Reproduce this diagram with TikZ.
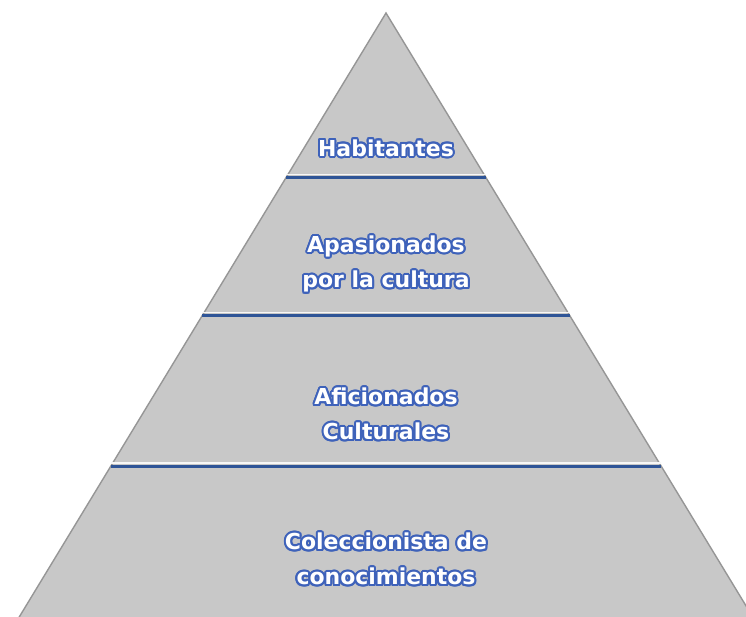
\documentclass[tikz,border=0pt]{standalone}
\usepackage{fontspec}
\usepackage{contour}
\usetikzlibrary{calc}
\newfontfamily\lvlfont{DejaVu Sans}
\definecolor{pyrgray}{RGB}{200,200,200}
\definecolor{pyredge}{RGB}{150,150,150}
\definecolor{lvlblue}{RGB}{47,85,151}
\definecolor{txtblue}{RGB}{62,98,186}
\contourlength{1.15pt}
\newcommand{\lvl}[1]{\contour{txtblue}{#1}}

\begin{document}
\begin{tikzpicture}[x=0.02cm,y=-0.02cm,
    lvltext/.style={text=white, align=center, font=\lvlfont\bfseries\fontsize{12.5}{20}\selectfont},
    divider/.style={lvlblue, line width=1.6pt}]
  \useasboundingbox (0,0) rectangle (746,616);
  \clip (0,0) rectangle (746,616);
  \coordinate (top) at (386,13);
  \coordinate (bl) at (18,619);
  \coordinate (br) at (754,619);
  \fill[pyrgray, draw=pyredge, line width=0.8pt] (top) -- (bl) -- (br) -- cycle;
  % level dividers
  \coordinate (l1) at ($(top)!0.272!(bl)$);
  \coordinate (r1) at ($(top)!0.272!(br)$);
  \coordinate (l2) at ($(top)!0.499!(bl)$);
  \coordinate (r2) at ($(top)!0.499!(br)$);
  \coordinate (l3) at ($(top)!0.748!(bl)$);
  \coordinate (r3) at ($(top)!0.748!(br)$);
  \foreach \i in {1,2,3}{
    \draw[white!85!pyrgray, line width=0.8pt] ([yshift=1.8pt]l\i) -- ([yshift=1.8pt]r\i);
    \draw[divider] (l\i) -- (r\i);
  }
  % labels
  \node[lvltext] (hab) at (386,149) {\lvl{Habitantes}};
  \node[lvltext] (apa) at (386,265) {\lvl{Apasionados}\\\lvl{por la cultura}};
  \node[lvltext] (afi) at (386,415) {\lvl{Aficionados}\\\lvl{Culturales}};
  \node[lvltext] (col) at (386,560) {\lvl{Coleccionista de}\\\lvl{conocimientos}};
\end{tikzpicture}
\end{document}
